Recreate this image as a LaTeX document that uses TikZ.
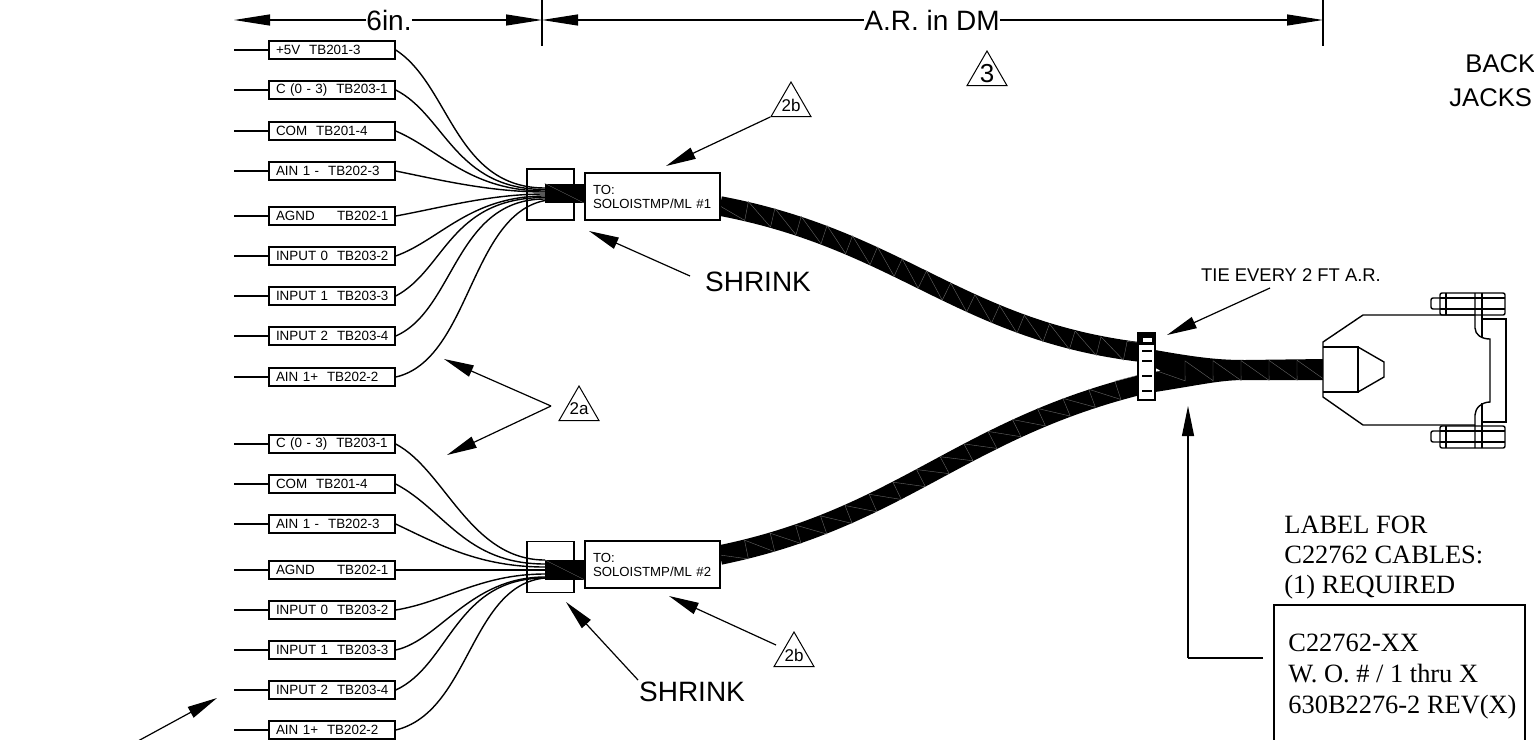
\documentclass[tikz,border=0pt]{standalone}
\usepackage{fontspec}
\setmainfont{Liberation Sans}
\newfontfamily\labelfont{Liberation Serif}
\usetikzlibrary{arrows.meta,shapes.geometric,decorations.pathmorphing}
\tikzset{
  every node/.style={
    inner sep=0pt
  },
  tagbox/.style={
    draw,
    line width=.75pt,
    fill=white,
    minimum height=9pt,
    text width=56pt,
    inner xsep=3.5pt,
    align=left,
    font=\fontsize{6.7}{7}\selectfont
  },
  hoodbox/.style={
    draw,
    line width=.75pt,
    fill=white,
    minimum width=67.5pt,
    minimum height=23.5pt,
    text width=59.5pt,
    inner xsep=4pt,
    align=left,
    font=\fontsize{6.6}{7}\selectfont
  },
  shrinkbox/.style={
    draw,
    line width=.6pt,
    minimum width=23.5pt,
    minimum height=25.5pt
  },
  stubbox/.style={
    fill=black,
    minimum width=20pt,
    minimum height=9.8pt
  },
  notetri/.style={
    draw,
    line width=.5pt,
    regular polygon,
    regular polygon sides=3,
    minimum size=23pt,
    inner sep=-5pt,
    fill=white
  },
  wire/.style={line width=.7pt},
  twist/.style={
    draw=black!60,
    line width=.2pt,
    decorate,
    decoration={saw,segment length=13.5pt,amplitude=-9.6pt,raise=4.8pt}
  },
  cable/.style={
    line width=9.8pt,
    postaction={twist}
  },
  pointer/.style={
    line width=.6pt,
    -{Triangle[length=15pt,width=6pt]}
  },
  dimline/.style={
    line width=.6pt,
    -{Triangle[length=18pt,width=5.5pt]}
  },
  part/.style={line width=.7pt}
}

\begin{document}
\begin{tikzpicture}[x=.5pt,y=-.5pt]
  \clip (0,0) rectangle (1534,739);

  % cables
  \draw[cable] (720,206) .. controls (900,240) and (960,330) .. (1140,352);
  \draw[cable] (720,555) .. controls (900,518) and (960,430) .. (1140,385);
  \fill (1155,350) .. controls (1200,358) and (1220,360) .. (1245,360) -- (1325,359)
    -- (1325,380) -- (1245,380) .. controls (1220,380) and (1200,385) .. (1155,392) -- cycle;
  \fill[white] (1155,368) -- (1160,370.5) -- (1155,372) -- cycle;
  \draw[twist,decoration={saw,segment length=14pt,amplitude=-10pt,raise=5pt}] (1157,371) -- (1325,370);

  % shrink and hood
  \node[shrinkbox] (shrinkA) at (550.5,194.5) {};
  \node[shrinkbox] (shrinkB) at (550.5,567) {};
  \node[stubbox] (stubA) at (565,193.5) {};
  \node[stubbox] (stubB) at (565,570) {};
  \draw[black!60,line width=.2pt] (stubA.north west) -- (stubA.south east);
  \draw[black!60,line width=.2pt] (stubB.north west) -- (stubB.south east);
  \node[hoodbox] (hoodA) at (652.5,196.5) {TO:\\SOLOISTMP/ML \#1};
  \node[hoodbox] (hoodB) at (652.5,564.5) {TO:\\SOLOISTMP/ML \#2};

  % first set of tags
  \foreach \ty/\txt/\xa/\ya/\xb/\ye [count=\i] in {
    50/+5V~~TB201-3/450/85/455/188,
    90/C (0 - 3)~~TB203-1/445/115/455/189.5,
    131/COM~~TB201-4/440/150/470/191,
    171/AIN 1 -~~TB202-3/440/180/490/192,
    216/AGND~~~~~TB202-1/440/208/490/194,
    256/INPUT 0~~TB203-2/440/240/470/196,
    296/INPUT 1~~TB203-3/445/270/450/197.5,
    336/INPUT 2~~TB203-4/455/310/455/199,
    377/AIN 1+~~TB202-2/470/360/470/215} {
    \node[tagbox] (tagA\i) at (332,\ty) {\mbox{\txt}};
    \coordinate (leadA\i) at (234,\ty);
    \coordinate (endA\i) at (545,{min(\ye,200.5)});
    \draw[wire] (leadA\i) -- (tagA\i);
    \draw[wire] (tagA\i.east) .. controls (\xa,\ya) and (\xb,\ye) .. (endA\i);
  }

  % second set of tags
  \foreach \ty/\txt/\xa/\ya/\xb/\ye [count=\i] in {
    444/C (0 - 3)~~TB203-1/445/470/470/560,
    484/COM~~TB201-4/445/510/465/564,
    524/AIN 1 -~~TB202-3/440/545/480/567,
    570/AGND~~~~~TB202-1/440/570/490/570,
    610/INPUT 0~~TB203-2/445/602/480/574,
    650/INPUT 1~~TB203-3/440/640/470/577,
    690/INPUT 2~~TB203-4/450/665/455/578,
    730/AIN 1+~~TB202-2/470/712/470/585} {
    \node[tagbox] (tagB\i) at (332,\ty) {\mbox{\txt}};
    \coordinate (leadB\i) at (234,\ty);
    \coordinate (endB\i) at (545,{min(\ye,578)});
    \draw[wire] (leadB\i) -- (tagB\i);
    \draw[wire] (tagB\i.east) .. controls (\xa,\ya) and (\xb,\ye) .. (endB\i);
  }

  % dimensions
  \coordinate (dimL) at (234,20);
  \coordinate (dimM) at (542,20);
  \coordinate (dimR) at (1323,20);
  \draw[line width=.6pt] (542,0) -- (542,46);
  \draw[line width=.6pt] (1323,0) -- (1323,46);
  \node[font=\fontsize{14}{16}\selectfont] (six) at (389,20) {6in.};
  \node[font=\fontsize{14}{16}\selectfont] (ar) at (932,20) {A.R. in DM};
  \draw[dimline] (six) -- (dimL);
  \draw[dimline] (six) -- (dimM);
  \draw[dimline] (ar) -- (dimM);
  \draw[dimline] (ar) -- (dimR);

  % notes
  \node[notetri,font=\fontsize{13}{15}\selectfont] (noteC) at (987,74) {3};
  \node[notetri,font=\fontsize{8.5}{10}\selectfont] (noteB) at (791,105) {2b};
  \node[notetri,font=\fontsize{8.5}{10}\selectfont] (noteD) at (579,409) {2a};
  \node[notetri,font=\fontsize{8.5}{10}\selectfont] (noteE) at (794,655) {2b};
  \coordinate (fork) at (551,406);
  \coordinate (hoodAtip) at (666,166);
  \coordinate (hoodBtip) at (669,596);
  \coordinate (tagTipA) at (444,359);
  \coordinate (tagTipB) at (447,455);
  \draw[pointer] (noteB.corner 2) -- (hoodAtip);
  \draw[pointer] (776,645) -- (hoodBtip);
  \draw[pointer] (fork) -- (tagTipA);
  \draw[pointer] (fork) -- (tagTipB);

  \node[font=\fontsize{14}{16}\selectfont] (shrinkTxtA) at (758,282) {SHRINK};
  \node[font=\fontsize{14}{16}\selectfont] (shrinkTxtB) at (692,692) {SHRINK};
  \coordinate (shrinkTipA) at (589,231);
  \coordinate (shrinkTipB) at (566,602);
  \draw[pointer] (690,276) -- (shrinkTipA);
  \draw[pointer] (638,680) -- (shrinkTipB);

  \node[font=\fontsize{9.2}{11}\selectfont] (tieTxt) at (1291,275) {TIE EVERY 2 FT A.R.};
  \coordinate (tieTip) at (1167,335);
  \draw[pointer] (1270,288) -- (tieTip);

  \coordinate (farTail) at (138,741);
  \coordinate (farTip) at (217,698);
  \draw[pointer] (farTail) -- (farTip);

  % tie wrap
  \node[draw,line width=.6pt,fill=white,minimum width=8.5pt,minimum height=33.5pt] (tie) at (1146.5,366.5) {};
  \fill (1138,333) rectangle (1155,345);
  \fill[white] (1143,338) rectangle (1152,342);
  \foreach \ty in {351,361,376,391}
    \draw[line width=.7pt] (1142,\ty) -- (1152,\ty);

  % connector
  \draw[part,fill=white] (1475,315) -- (1363,315) -- (1323,342) -- (1323,397) -- (1363,425) -- (1475,425);
  \draw[part] (1323,347) -- (1358,347) -- (1358,392) -- (1323,392);
  \draw[part] (1358,347) -- (1384,362) -- (1384,377) -- (1358,392);
  \draw[part] (1482,319) -- (1506,319) -- (1506,422) -- (1482,422);
  \draw[part] (1482,293) -- (1482,338);
  \draw[part] (1482,403) -- (1482,448);
  \draw[part] (1475,293) -- (1475,328) .. controls (1475,335) and (1482,339) .. (1490,339)
    -- (1490,402) .. controls (1482,402) and (1475,408) .. (1475,415) -- (1475,448);
  \foreach \ty in {293,426} {
    \draw[part,rounded corners=1pt] (1440,\ty) rectangle (1505,\ty+22);
    \draw[part,rounded corners=1pt] (1440,\ty+5) -- (1431,\ty+5) -- (1431,\ty+16) -- (1440,\ty+16);
    \draw[part] (1440,\ty+5) -- (1505,\ty+5);
    \draw[part] (1440,\ty+16) -- (1505,\ty+16);
    \draw[part] (1446,\ty) -- (1446,\ty+22);
  }

  % label
  \node[anchor=north west,align=left,font=\labelfont\fontsize{13.2}{15}\selectfont] (labelTxt) at (1284,516)
    {LABEL FOR\\C22762 CABLES:\\(1) REQUIRED};
  \node[draw,line width=.75pt,minimum width=125.5pt,minimum height=90pt,anchor=north west] (labelBox) at (1273,604) {};
  \node[anchor=north west,align=left,font=\labelfont\fontsize{13.2}{15.5}\selectfont] (labelInner) at (1288,634)
    {C22762-XX\\W. O. \# / 1 thru X\\630B2276-2 REV(X)};
  \coordinate (labelBend) at (1188,658);
  \coordinate (labelTip) at (1188,406);
  \coordinate (labelTail) at (1263,658);
  \draw[line width=.6pt] (labelTail) -- (labelBend);
  \draw[pointer] (labelBend) -- (labelTip);

  % cut off at the right
  \node[anchor=west,font=\fontsize{12.8}{14}\selectfont] (backTxt) at (1465,64) {BACK};
  \node[anchor=west,font=\fontsize{12.8}{14}\selectfont] (jackTxt) at (1449,98) {JACKS};
\end{tikzpicture}
\end{document}
